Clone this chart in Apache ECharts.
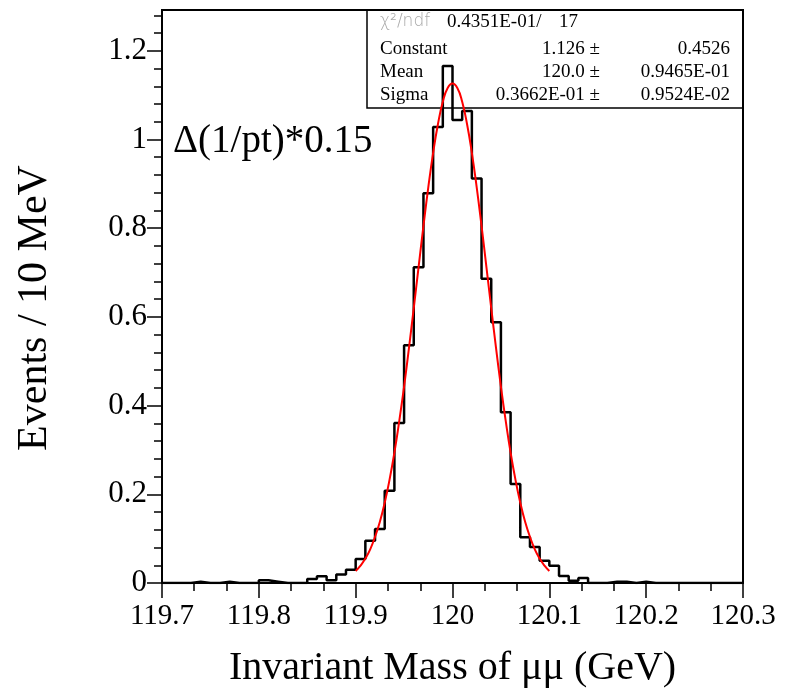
<!DOCTYPE html>
<html><head><meta charset="utf-8">
<script src="https://cdn.jsdelivr.net/npm/echarts@6/dist/echarts.min.js"></script>
<style>html,body{margin:0;padding:0;background:#fff}#c{width:796px;height:693px}</style>
</head><body><div id="c"></div>
<script>
// ---- data ----
const binLow = 119.70;
const binWidth = 0.01;
const counts = [
  0, 0, 0, 0.003, 0, 0, 0.003, 0, 0, 0,
  0.006, 0.003, 0, 0, 0, 0.009, 0.015, 0.006, 0.019, 0.030,
  0.054, 0.095, 0.122, 0.208, 0.361, 0.536, 0.712, 0.879, 1.028, 1.166,
  1.044, 1.064, 0.912, 0.686, 0.588, 0.385, 0.223, 0.103, 0.081, 0.050,
  0.039, 0.016, 0.005, 0.011, 0, 0, 0.003, 0.003, 0, 0.003,
  0, 0, 0, 0, 0, 0, 0, 0, 0, 0
];
const fitX = [119.900,119.905,119.910,119.915,119.920,119.925,119.930,119.935,119.940,119.945,
  119.950,119.955,119.960,119.965,119.970,119.975,119.980,119.985,119.990,119.995,120.000,
  120.005,120.010,120.015,120.020,120.025,120.030,120.035,120.040,120.045,120.050,
  120.055,120.060,120.065,120.070,120.075,120.080,120.085,120.090,120.095,120.100];
const fitY = [0.027,0.039,0.055,0.076,0.104,0.138,0.181,0.233,0.294,0.365,
  0.443,0.529,0.620,0.713,0.805,0.892,0.970,1.035,1.085,1.116,1.126,
  1.116,1.085,1.035,0.970,0.892,0.805,0.713,0.620,0.529,0.443,
  0.365,0.294,0.233,0.181,0.138,0.104,0.076,0.055,0.039,0.027];
const xTicks = [119.7, 119.8, 119.9, 120.0, 120.1, 120.2, 120.3];
const yTicks = [0, 0.2, 0.4, 0.6, 0.8, 1.0, 1.2];
const xLabel = 'Invariant Mass of μμ (GeV)';
const yLabel = 'Events / 10 MeV';
const plotNote = 'Δ(1/pt)*0.15';
const statNames = ['Constant', 'Mean', 'Sigma'];
const statValues = ['1.126 ±', '120.0 ±', '0.3662E-01 ±'];
const statErrors = ['0.4526', '0.9465E-01', '0.9524E-02'];
const chi2Value = '0.4351E-01/';
const ndfValue = '17';

// ---- build ----
const xMin = 119.7, xMax = 120.3, yMin = 0, yMax = 1.292;
const histData = counts.map((v, i) => [+(binLow + i * binWidth).toFixed(2), v]);
histData.push([+(binLow + counts.length * binWidth).toFixed(2), counts[counts.length - 1]]);
const fitData = fitX.map((x, i) => [x, fitY[i]]);
const xMinor = []; for (let k = 0; k <= 18; k++) xMinor.push(+(119.7 + k * 0.1 / 3).toFixed(4));
const yMinor = []; for (let k = 0; k <= 32; k++) yMinor.push(+(k * 0.04).toFixed(2));

const SERIF = '"Liberation Serif", "Times New Roman", serif';
const chart = echarts.init(document.getElementById('c'), null, {renderer: 'canvas'});
const statRowsY = [48.7, 72, 95.5];
const graphics = [
  {type: 'rect', z: 1, shape: {x: 367, y: 10, width: 376, height: 98},
   style: {fill: 'none', stroke: '#000', lineWidth: 1.5}},
  {type: 'text', z: 5, x: 380, y: 22, style: {text: 'χ²/ndf', font: '300 17px "DejaVu Sans"', fill: '#a8a8a8', align: 'left', verticalAlign: 'middle'}},
  {type: 'text', z: 5, x: 447, y: 22, style: {text: chi2Value, font: '19px ' + SERIF, fill: '#000', align: 'left', verticalAlign: 'middle'}},
  {type: 'text', z: 5, x: 578, y: 22, style: {text: ndfValue, font: '19px ' + SERIF, fill: '#000', align: 'right', verticalAlign: 'middle'}},
  {type: 'text', z: 5, x: 173, y: 142, style: {text: plotNote, font: '39px ' + SERIF, fill: '#000', align: 'left', verticalAlign: 'middle'}},
  {type: 'text', z: 5, x: 35, y: 308, rotation: Math.PI / 2,
   style: {text: yLabel, font: '42px ' + SERIF, fill: '#000', align: 'center', verticalAlign: 'middle'}}
];
statNames.forEach((n, i) => {
  graphics.push({type: 'text', z: 5, x: 380, y: statRowsY[i], style: {text: n, font: '19px ' + SERIF, fill: '#000', align: 'left', verticalAlign: 'middle'}});
  graphics.push({type: 'text', z: 5, x: 600, y: statRowsY[i], style: {text: statValues[i], font: '19px ' + SERIF, fill: '#000', align: 'right', verticalAlign: 'middle'}});
  graphics.push({type: 'text', z: 5, x: 730, y: statRowsY[i], style: {text: statErrors[i], font: '19px ' + SERIF, fill: '#000', align: 'right', verticalAlign: 'middle'}});
});

const fmt = v => String(Math.round(v * 10) / 10);
chart.setOption({
  animation: false,
  backgroundColor: '#fff',
  grid: {left: 162, right: 53, top: 10, bottom: 104, show: true, borderColor: '#000', borderWidth: 2, backgroundColor: 'transparent'},
  xAxis: [{
    type: 'value', min: xMin, max: xMax, position: 'bottom',
    axisLine: {show: true, onZero: false, lineStyle: {color: '#000', width: 2}},
    axisTick: {show: true, customValues: xTicks, length: 15, lineStyle: {color: '#000', width: 1.5}},
    axisLabel: {customValues: xTicks, formatter: fmt, fontFamily: SERIF, fontSize: 29, color: '#000', margin: 19},
    splitLine: {show: false},
    name: xLabel, nameLocation: 'middle', nameGap: 65,
    nameTextStyle: {fontFamily: SERIF, fontSize: 40, color: '#000'}
  }, {
    type: 'value', min: xMin, max: xMax, position: 'bottom',
    axisLine: {show: false},
    axisTick: {show: true, customValues: xMinor, length: 8, lineStyle: {color: '#000', width: 1.5}},
    axisLabel: {show: false}, splitLine: {show: false}
  }],
  yAxis: [{
    type: 'value', min: yMin, max: yMax, position: 'left',
    axisLine: {show: true, onZero: false, lineStyle: {color: '#000', width: 2}},
    axisTick: {show: true, customValues: yTicks, length: 15, lineStyle: {color: '#000', width: 1.5}},
    axisLabel: {customValues: yTicks, formatter: fmt, fontFamily: SERIF, fontSize: 31, color: '#000', margin: 15},
    splitLine: {show: false}
  }, {
    type: 'value', min: yMin, max: yMax, position: 'left',
    axisLine: {show: false},
    axisTick: {show: true, customValues: yMinor, length: 8, lineStyle: {color: '#000', width: 1.5}},
    axisLabel: {show: false}, splitLine: {show: false}
  }],
  series: [{
    type: 'line', name: 'hist', data: histData, step: 'end', xAxisIndex: 0, yAxisIndex: 0,
    symbol: 'none', lineStyle: {color: '#000', width: 2.5}, z: 3
  }, {
    type: 'line', name: 'fit', data: fitData, smooth: true, xAxisIndex: 0, yAxisIndex: 0,
    symbol: 'none', lineStyle: {color: '#ff0000', width: 2}, z: 4
  }],
  graphic: graphics
});
</script>
</body></html>
